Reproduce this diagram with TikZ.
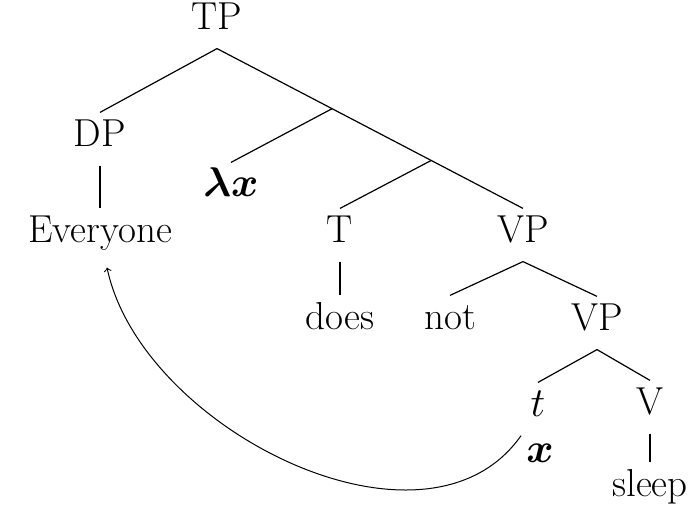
\documentclass[tikz,border=0pt]{standalone}
\usepackage{amsmath}
\usepackage{amssymb}
\usepackage{bm}
\usepackage{tikz}
\usetikzlibrary{calc}

\begin{document}
\begin{tikzpicture}[x=0.5pt, y=0.5pt, line width=0.6pt,
  lab/.style={anchor=base, inner sep=4.5pt, text height=12.5pt, text depth=4.5pt,
    font=\fontsize{19.5}{23}\selectfont}]
  \useasboundingbox (0,0) rectangle (696,-512);
  % upper part: TP, DP, lambda x
  \node[lab] (tp) at (217,-30) {TP};
  \node[lab] (dp) at (100,-147) {DP};
  \node[lab] (every) at (100,-243) {Everyone};
  \node[lab] (lx) at (231,-197) {$\boldsymbol{\lambda x}$};
  % T and the VPs
  \node[lab] (tt) at (340,-243) {T};
  \node[lab] (does) at (340,-330) {does};
  \node[lab] (vpa) at (523,-243) {VP};
  \node[lab] (neg) at (450,-330) {not};
  \node[lab] (vpb) at (597,-331) {VP};
  \node[lab] (tr) at (538,-417) {$t$};
  \node[lab] (xv) at (540,-463) {$\boldsymbol{x}$};
  \node[lab] (vv) at (650,-415) {V};
  \node[lab] (sleep) at (650,-497) {sleep};
  % branch points on the long right edge
  \coordinate (j1) at ($(tp.south)!0.376!(vpa.north)$);
  \coordinate (j2) at ($(tp.south)!0.70!(vpa.north)$);
  \draw (tp.south) -- (dp.north);
  \draw (tp.south) -- (j1) -- (j2) -- (vpa.north);
  \draw (j1) -- (lx.north);
  \draw (j2) -- (tt.north);
  \draw (dp.south) -- (every.north);
  \draw (tt.south) -- (does.north);
  \draw (vpa.south) -- (neg.north);
  \draw (vpa.south) -- (vpb.north);
  \draw (vpb.south) -- (tr.north);
  \draw (vpb.south) -- (vv.north);
  \draw (vv.south) -- (sleep.north);
  % movement arrow
  \draw[->, line width=0.5pt] (tr.south west) to[out=-125, in=-78, looseness=0.95]
    ([shift={(7,-6)}]every.south);
\end{tikzpicture}
\end{document}
